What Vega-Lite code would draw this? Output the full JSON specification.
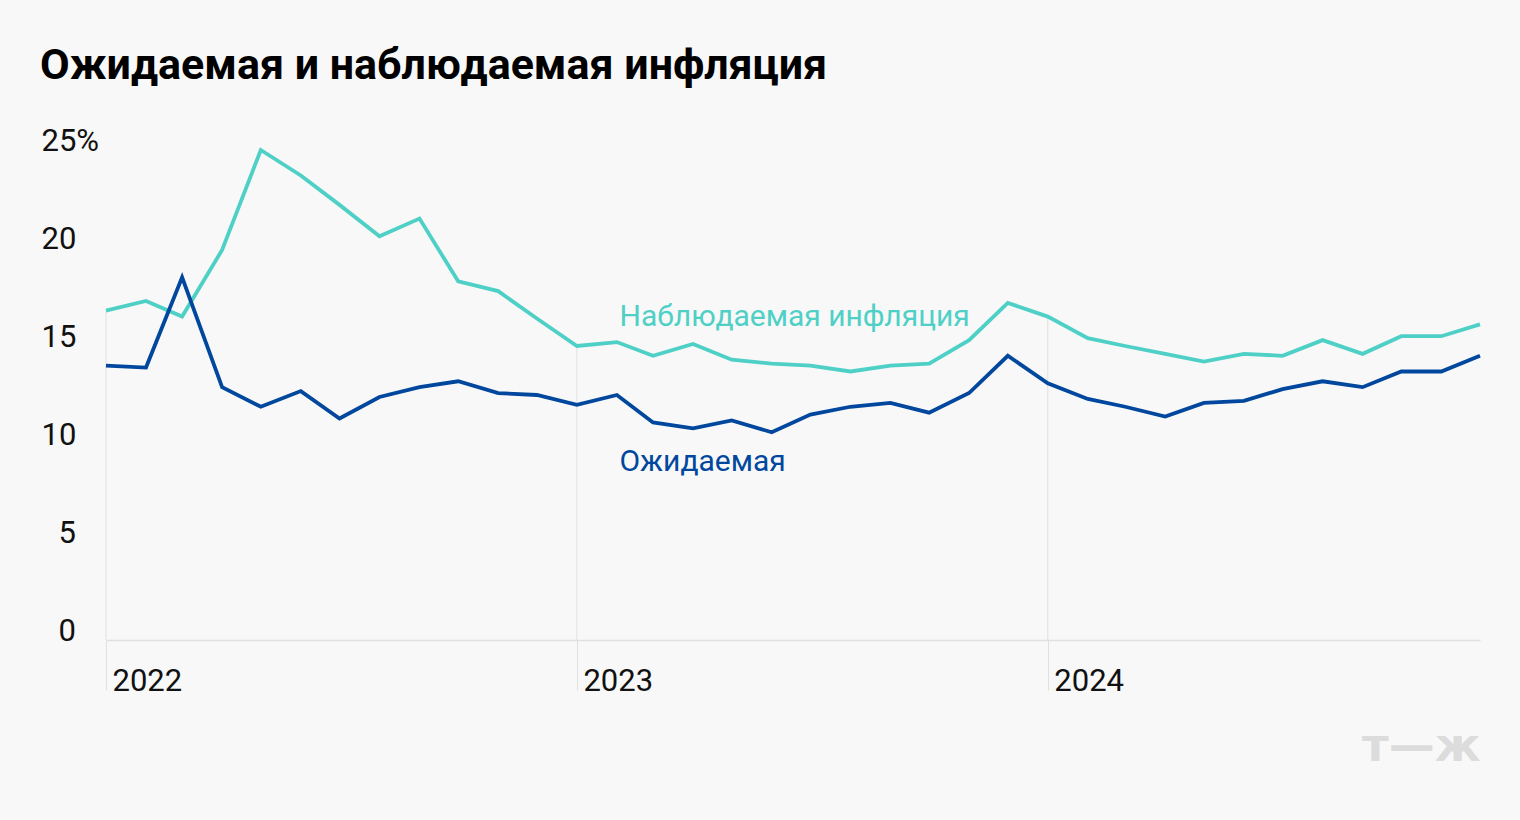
{
  "$schema": "https://vega.github.io/schema/vega-lite/v6.json",
  "width": 1374,
  "height": 490,
  "autosize": {"type": "none"},
  "padding": {"left": 106, "top": 150, "right": 40, "bottom": 180},
  "background": "#f8f8f8",
  "config": {"view": {"stroke": null}, "font": "Roboto"},
  "title": {
    "text": "Ожидаемая и наблюдаемая инфляция",
    "anchor": "start",
    "frame": "group",
    "dx": -66,
    "offset": 37,
    "font": "Roboto",
    "fontSize": 43,
    "fontWeight": "bold",
    "color": "#000000"
  },
  "datasets": {
    "series": [
      {"date": "2022-01-01", "series": "Наблюдаемая", "value": 16.8},
      {"date": "2022-02-01", "series": "Наблюдаемая", "value": 17.3},
      {"date": "2022-03-01", "series": "Наблюдаемая", "value": 16.5},
      {"date": "2022-04-01", "series": "Наблюдаемая", "value": 19.9},
      {"date": "2022-05-01", "series": "Наблюдаемая", "value": 25.0},
      {"date": "2022-06-01", "series": "Наблюдаемая", "value": 23.7},
      {"date": "2022-07-01", "series": "Наблюдаемая", "value": 22.2},
      {"date": "2022-08-01", "series": "Наблюдаемая", "value": 20.6},
      {"date": "2022-09-01", "series": "Наблюдаемая", "value": 21.5},
      {"date": "2022-10-01", "series": "Наблюдаемая", "value": 18.3},
      {"date": "2022-11-01", "series": "Наблюдаемая", "value": 17.8},
      {"date": "2022-12-01", "series": "Наблюдаемая", "value": 16.4},
      {"date": "2023-01-01", "series": "Наблюдаемая", "value": 15.0},
      {"date": "2023-02-01", "series": "Наблюдаемая", "value": 15.2},
      {"date": "2023-03-01", "series": "Наблюдаемая", "value": 14.5},
      {"date": "2023-04-01", "series": "Наблюдаемая", "value": 15.1},
      {"date": "2023-05-01", "series": "Наблюдаемая", "value": 14.3},
      {"date": "2023-06-01", "series": "Наблюдаемая", "value": 14.1},
      {"date": "2023-07-01", "series": "Наблюдаемая", "value": 14.0},
      {"date": "2023-08-01", "series": "Наблюдаемая", "value": 13.7},
      {"date": "2023-09-01", "series": "Наблюдаемая", "value": 14.0},
      {"date": "2023-10-01", "series": "Наблюдаемая", "value": 14.1},
      {"date": "2023-11-01", "series": "Наблюдаемая", "value": 15.3},
      {"date": "2023-12-01", "series": "Наблюдаемая", "value": 17.2},
      {"date": "2024-01-01", "series": "Наблюдаемая", "value": 16.5},
      {"date": "2024-02-01", "series": "Наблюдаемая", "value": 15.4},
      {"date": "2024-03-01", "series": "Наблюдаемая", "value": 15.0},
      {"date": "2024-04-01", "series": "Наблюдаемая", "value": 14.6},
      {"date": "2024-05-01", "series": "Наблюдаемая", "value": 14.2},
      {"date": "2024-06-01", "series": "Наблюдаемая", "value": 14.6},
      {"date": "2024-07-01", "series": "Наблюдаемая", "value": 14.5},
      {"date": "2024-08-01", "series": "Наблюдаемая", "value": 15.3},
      {"date": "2024-09-01", "series": "Наблюдаемая", "value": 14.6},
      {"date": "2024-10-01", "series": "Наблюдаемая", "value": 15.5},
      {"date": "2024-11-01", "series": "Наблюдаемая", "value": 15.5},
      {"date": "2024-12-01", "series": "Наблюдаемая", "value": 16.1},
      {"date": "2022-01-01", "series": "Ожидаемая", "value": 14.0},
      {"date": "2022-02-01", "series": "Ожидаемая", "value": 13.9},
      {"date": "2022-03-01", "series": "Ожидаемая", "value": 18.5},
      {"date": "2022-04-01", "series": "Ожидаемая", "value": 12.9},
      {"date": "2022-05-01", "series": "Ожидаемая", "value": 11.9},
      {"date": "2022-06-01", "series": "Ожидаемая", "value": 12.7},
      {"date": "2022-07-01", "series": "Ожидаемая", "value": 11.3},
      {"date": "2022-08-01", "series": "Ожидаемая", "value": 12.4},
      {"date": "2022-09-01", "series": "Ожидаемая", "value": 12.9},
      {"date": "2022-10-01", "series": "Ожидаемая", "value": 13.2},
      {"date": "2022-11-01", "series": "Ожидаемая", "value": 12.6},
      {"date": "2022-12-01", "series": "Ожидаемая", "value": 12.5},
      {"date": "2023-01-01", "series": "Ожидаемая", "value": 12.0},
      {"date": "2023-02-01", "series": "Ожидаемая", "value": 12.5},
      {"date": "2023-03-01", "series": "Ожидаемая", "value": 11.1},
      {"date": "2023-04-01", "series": "Ожидаемая", "value": 10.8},
      {"date": "2023-05-01", "series": "Ожидаемая", "value": 11.2},
      {"date": "2023-06-01", "series": "Ожидаемая", "value": 10.6},
      {"date": "2023-07-01", "series": "Ожидаемая", "value": 11.5},
      {"date": "2023-08-01", "series": "Ожидаемая", "value": 11.9},
      {"date": "2023-09-01", "series": "Ожидаемая", "value": 12.1},
      {"date": "2023-10-01", "series": "Ожидаемая", "value": 11.6},
      {"date": "2023-11-01", "series": "Ожидаемая", "value": 12.6},
      {"date": "2023-12-01", "series": "Ожидаемая", "value": 14.5},
      {"date": "2024-01-01", "series": "Ожидаемая", "value": 13.1},
      {"date": "2024-02-01", "series": "Ожидаемая", "value": 12.3},
      {"date": "2024-03-01", "series": "Ожидаемая", "value": 11.9},
      {"date": "2024-04-01", "series": "Ожидаемая", "value": 11.4},
      {"date": "2024-05-01", "series": "Ожидаемая", "value": 12.1},
      {"date": "2024-06-01", "series": "Ожидаемая", "value": 12.2},
      {"date": "2024-07-01", "series": "Ожидаемая", "value": 12.8},
      {"date": "2024-08-01", "series": "Ожидаемая", "value": 13.2},
      {"date": "2024-09-01", "series": "Ожидаемая", "value": 12.9},
      {"date": "2024-10-01", "series": "Ожидаемая", "value": 13.7},
      {"date": "2024-11-01", "series": "Ожидаемая", "value": 13.7},
      {"date": "2024-12-01", "series": "Ожидаемая", "value": 14.5}
    ],
    "labels": [
      {"date": "2023-02-03", "series": "Наблюдаемая", "value": 16.0, "text": "Наблюдаемая инфляция"},
      {"date": "2023-02-03", "series": "Ожидаемая", "value": 8.64, "text": "Ожидаемая"}
    ]
  },
  "layer": [
    {
      "data": {"name": "series", "format": {"parse": {"date": "date"}}},
      "transform": [
        {"filter": "datum.series === 'Наблюдаемая' && utcmonth(datum.date) === 0"}
      ],
      "mark": {"type": "rule", "color": "#e0e0e0", "strokeWidth": 1},
      "encoding": {
        "x": {"field": "date", "type": "temporal"},
        "y": {"field": "value", "type": "quantitative"},
        "y2": {"datum": 0}
      }
    },
    {
      "data": {"name": "series", "format": {"parse": {"date": "date"}}},
      "mark": {"type": "line", "strokeWidth": 3.8, "strokeJoin": "miter"},
      "encoding": {
        "x": {
          "field": "date",
          "type": "temporal",
          "scale": {"type": "utc"},
          "axis": {
            "values": [
              {"year": 2022, "month": 1, "date": 1, "utc": true},
              {"year": 2023, "month": 1, "date": 1, "utc": true},
              {"year": 2024, "month": 1, "date": 1, "utc": true}
            ],
            "format": "%Y",
            "grid": false,
            "domain": true,
            "domainColor": "#e0e0e0",
            "domainWidth": 1.5,
            "ticks": true,
            "tickSize": 50,
            "tickColor": "#e0e0e0",
            "tickWidth": 1,
            "labelAlign": "left",
            "labelBaseline": "alphabetic",
            "labelPadding": 0,
            "labelOffset": 6,
            "labelFlush": false,
            "labelFontSize": 31,
            "labelFont": "Roboto",
            "labelColor": "#111111",
            "title": "т—ж",
            "titleFont": "DejaVu Sans",
            "titleFontSize": 46,
            "titleFontWeight": 900,
            "titleColor": "#dcdcdc",
            "titleAnchor": "end",
            "titleAlign": "right",
            "titleBaseline": "alphabetic",
            "titleX": 1374,
            "titleY": 120
          }
        },
        "y": {
          "field": "value",
          "type": "quantitative",
          "scale": {"domain": [0, 25], "nice": false, "zero": true},
          "axis": {
            "values": [0, 5, 10, 15, 20, 25],
            "labelExpr": "datum.value == 25 ? '25%' : datum.label",
            "grid": false,
            "domain": false,
            "ticks": false,
            "labelAlign": "left",
            "labelBaseline": "alphabetic",
            "labelPadding": {"condition": {"test": "datum.value < 10", "value": 48}, "value": 65},
            "labelFontSize": 31,
            "labelFont": "Roboto",
            "labelColor": "#111111",
            "title": null
          }
        },
        "color": {
          "field": "series",
          "type": "nominal",
          "scale": {"domain": ["Наблюдаемая", "Ожидаемая"], "range": ["#4fd0c6", "#00479d"]},
          "legend": null
        }
      }
    },
    {
      "data": {"name": "labels", "format": {"parse": {"date": "date"}}},
      "mark": {"type": "text", "align": "left", "baseline": "alphabetic", "fontSize": 30, "font": "Roboto"},
      "encoding": {
        "x": {"field": "date", "type": "temporal"},
        "y": {"field": "value", "type": "quantitative"},
        "text": {"field": "text"},
        "color": {"field": "series", "type": "nominal", "legend": null}
      }
    }
  ]
}
